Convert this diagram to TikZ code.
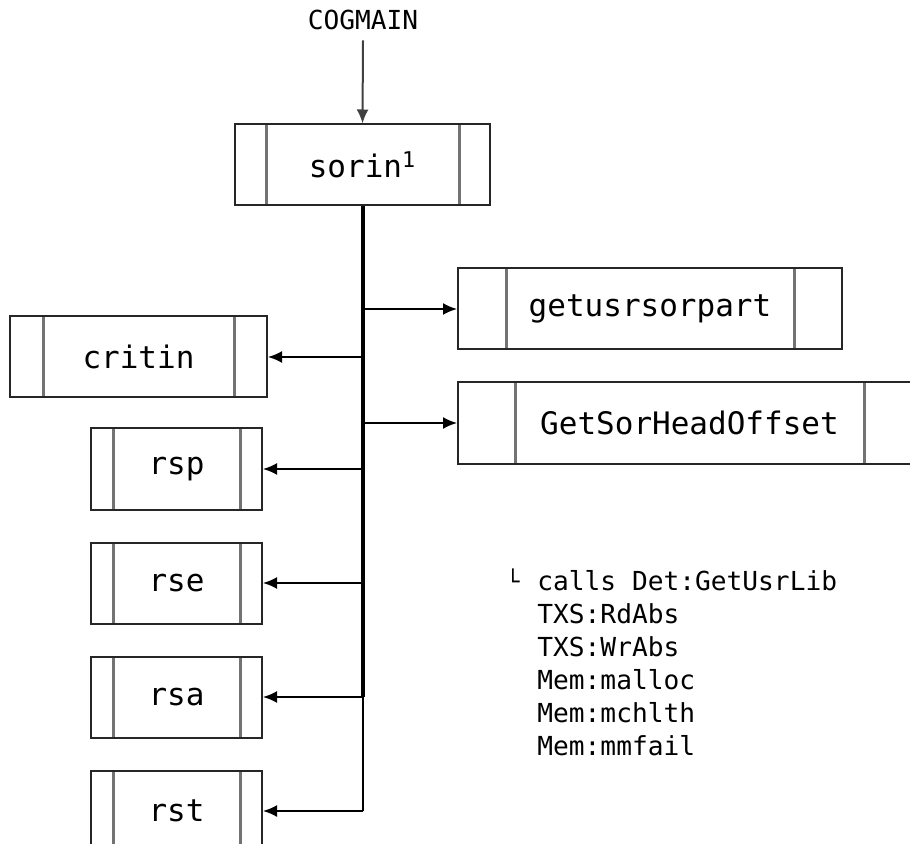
\documentclass[tikz,border=0pt]{standalone}
\usepackage{fontspec}
\setmonofont{DejaVu Sans Mono}
\usetikzlibrary{arrows.meta}
\usetikzlibrary{positioning}

\tikzset{
	proc/.style={draw=black!85, line width=1pt, minimum height=40.5pt, inner sep=0pt,
		font=\ttfamily\fontsize{15.5}{18}\selectfont,
		path picture={\draw[black!55, line width=1.5pt]
			([xshift=#1]path picture bounding box.north west) -- ([xshift=#1]path picture bounding box.south west)
			([xshift=-#1]path picture bounding box.north east) -- ([xshift=-#1]path picture bounding box.south east);}},
	notes/.style={font=\ttfamily\fontsize{13.1}{16.5}\selectfont, inner sep=0pt},
	call/.style={-{Latex[length=7pt,width=6pt]}, line width=1pt},
	trunk/.style={line width=2pt}
}

\begin{document}
\begin{tikzpicture}
			\useasboundingbox (0pt,0pt) rectangle (455pt,-422pt);

			\node[notes] (COGMAIN) at (181.5pt,-10pt) {COGMAIN};
			\node[proc=15.5pt, minimum width=127.5pt] (sorin) at (181.25pt,-82.5pt) {sorin\textsuperscript{1}};

			\node[proc=24pt, minimum width=192pt] (getusrsorpart) at (325pt,-154.5pt) {getusrsorpart};
			\node[proc=28.5pt, minimum width=231.5pt] (GetSorHeadOffset) [below right=15.5pt and 0pt of getusrsorpart.south west] {GetSorHeadOffset};

			\node[proc=16.5pt, minimum width=128.5pt] (critin) at (69.25pt,-178.5pt) {critin};
			\node[proc=11pt, minimum width=85.5pt] (rsp) at (88.25pt,-234.5pt) {rsp};
			\node[proc=11pt, minimum width=85.5pt] (rse) [below=15.5pt of rsp] {rse};
			\node[proc=11pt, minimum width=85.5pt] (rsa) [below=15.5pt of rse] {rsa};
			\node[proc=11pt, minimum width=85.5pt] (rst) [below=15.5pt of rsa] {rst};

			% footnote of sorin
			\node[notes, anchor=north west, align=left] (sorinCalls) at (268.5pt,-285pt)
				{calls Det:GetUsrLib\\TXS:RdAbs\\TXS:WrAbs\\Mem:malloc\\Mem:mchlth\\Mem:mmfail};
			\node[notes, font=\ttfamily\fontsize{11}{11}\selectfont, anchor=north east] (sorinMark) [below left=-1pt and 8.5pt of sorinCalls.north west] {└};

			\draw[call, black!75] ([yshift=-5pt]COGMAIN.south) -- (sorin.north);

			\draw[trunk] (sorin.south) -- (sorin.south |- rsa);
			\draw[line width=1pt] (sorin.south |- rsa) -- (sorin.south |- rst);

			\draw[call] (sorin.south |- getusrsorpart) -- (getusrsorpart);
			\draw[call] (sorin.south |- GetSorHeadOffset) -- (GetSorHeadOffset);
			\draw[call] (sorin.south |- critin) -- (critin);
			\draw[call] (sorin.south |- rsp) -- (rsp);
			\draw[call] (sorin.south |- rse) -- (rse);
			\draw[call] (sorin.south |- rsa) -- (rsa);
			\draw[call] (sorin.south |- rst) -- (rst);
\end{tikzpicture}
\end{document}
